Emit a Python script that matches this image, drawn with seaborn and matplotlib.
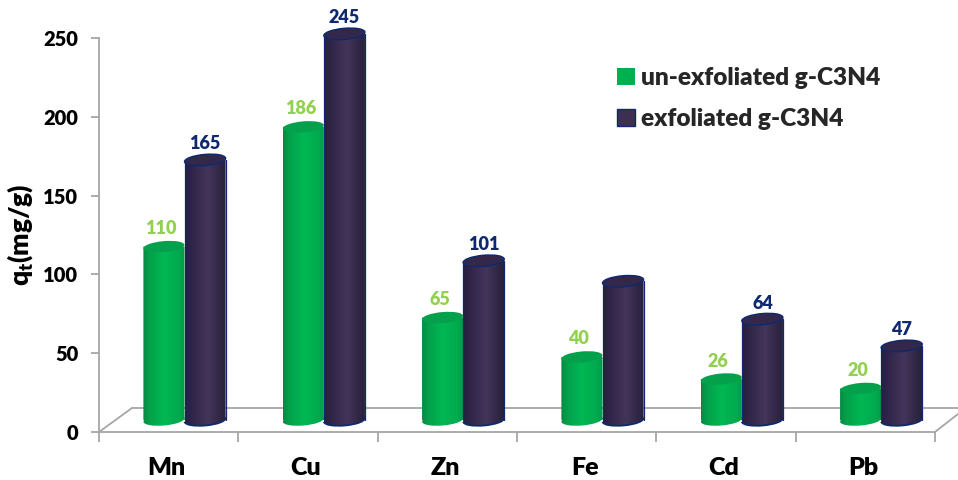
import numpy as np
import pandas as pd
import matplotlib
matplotlib.use("Agg")
import matplotlib.pyplot as plt
import seaborn as sns
from matplotlib.patches import Ellipse, Arc, Patch
from matplotlib.path import Path
from matplotlib.transforms import Affine2D, IdentityTransform

metals = ["Mn", "Cu", "Zn", "Fe", "Cd", "Pb"]
unexfoliated = [110, 186, 65, 40, 26, 20]
exfoliated = [165, 245, 101, 88, 64, 47]
unexfoliated_labels = ["110", "186", "65", "40", "26", "20"]
exfoliated_labels = ["165", "245", "101", "", "64", "47"]
series_names = ["un-exfoliated g-C3N4", "exfoliated g-C3N4"]
y_ticks = [0, 50, 100, 150, 200, 250]

W, H = 958, 480
GREY = "#a6a6a6"
GREEN = "#00b050"
PURPLE = "#3d2f50"
NAVY = "#10296e"
LIME = "#92d050"
WEIGHT = 800

sns.set_theme(style="white")
plt.rcParams["font.family"] = ["Lato", "DejaVu Sans"]
plt.rcParams["font.weight"] = WEIGHT
plt.rcParams["mathtext.fontset"] = "custom"
plt.rcParams["mathtext.bf"] = "Lato:weight=800"

fig = plt.figure(figsize=(W / 100, H / 100), dpi=100, facecolor="white")

# Frame axes: value scale, category ticks and the perspective floor
left, right, top, bottom = 99, 935, 38, 432
frame = fig.add_axes([left / W, 1 - bottom / H, (right - left) / W, (bottom - top) / H], zorder=1)
frame.set_xlim(0, len(metals))
frame.set_ylim(0, 250)
frame.set_facecolor("none")
for side in ("top", "right"):
    frame.spines[side].set_visible(False)
for side in ("left", "bottom"):
    frame.spines[side].set_color(GREY)
    frame.spines[side].set_linewidth(1.3)
frame.set_yticks(y_ticks)
frame.set_yticklabels(y_ticks, fontsize=14.5, fontweight=WEIGHT, color="black")
frame.set_xticks(np.arange(len(metals) + 1))
frame.set_xticklabels([])
frame.set_xticks(np.arange(len(metals)) + 0.485, minor=True)
frame.set_xticklabels(metals, minor=True, fontsize=18, fontweight=WEIGHT, color="black")
frame.tick_params(axis="y", length=6, width=1.3, color=GREY, pad=9, left=True)
frame.tick_params(axis="x", which="major", length=7, width=1.3, color=GREY, bottom=True)
frame.tick_params(axis="x", which="minor", length=0, pad=18)
frame.set_ylabel(r"$\mathbf{q_t(mg/g)}$", fontsize=19, color="black", labelpad=6)

to_frame = frame.transAxes.inverted()
def floor_line(p0, p1):
    (x0, y0), (x1, y1) = fig.transFigure.transform([(p0[0] / W, 1 - p0[1] / H), (p1[0] / W, 1 - p1[1] / H)])
    a, b = to_frame.transform([(x0, y0), (x1, y1)])
    frame.plot([a[0], b[0]], [a[1], b[1]], transform=frame.transAxes, color=GREY, lw=1.3, clip_on=False)

floor_line((left, bottom), (132, 408))
floor_line((132, 408), (W, 408))
floor_line((right, bottom), (W, 414))

# Bar axes: same value scale per pixel, shifted to the middle of the floor
px_per_unit = (bottom - top) / 250
px_per_cat = (right - left) / len(metals)
base_px, first_center_px = 420, 184.5
ax = fig.add_axes([0, 0, 1, 1], zorder=2)
ax.set_facecolor("none")

table = pd.DataFrame({
    "metal": metals * 2,
    "series": [series_names[0]] * 6 + [series_names[1]] * 6,
    "value": unexfoliated + exfoliated,
})
sns.barplot(data=table, x="metal", y="value", hue="series", hue_order=series_names,
            order=metals, palette=[GREEN, PURPLE], width=0.59, gap=0, legend=False,
            errorbar=None, ax=ax, linewidth=0)
xlim = (-first_center_px / px_per_cat, (W - first_center_px) / px_per_cat)
ylim = ((base_px - H) / px_per_unit, base_px / px_per_unit)
ax.set_xlim(xlim)
ax.set_ylim(ylim)
ax.axis("off")

def gradient(stops, n=64):
    pos = np.linspace(0, 1, n)
    xs = [s[0] for s in stops]
    rgb = np.array([matplotlib.colors.to_rgb(s[1]) for s in stops])
    return np.stack([np.interp(pos, xs, rgb[:, i]) for i in range(3)], axis=1)[None, :, :]

green_shade = gradient([(0, "#078a41"), (0.14, "#04a04b"), (0.5, "#00b853"), (0.85, "#01aa4e"), (1, "#019a47")])
purple_shade = gradient([(0, "#271f3c"), (0.2, "#31274a"), (0.55, "#44355a"), (0.85, "#2f2644"), (1, "#262038")])

RX_TILT = 5
RY = 5.5

def ellipse_path(cx, cy, rx, ry, tilt):
    return Path.unit_circle().transformed(Affine2D().scale(rx, ry).rotate_deg(tilt).translate(cx, cy))

def draw_cylinder(bar, shade, cap, edge, z):
    x, w, h = bar.get_x(), bar.get_width(), bar.get_height()
    (x0, y0), (x1, y1) = ax.transData.transform([(x, 0), (x + w, h)])
    cx, rx = (x0 + x1) / 2, (x1 - x0) / 2
    body = Path([(x0, y0), (x1, y0), (x1, y1), (x0, y1), (x0, y0)],
                [Path.MOVETO, Path.LINETO, Path.LINETO, Path.LINETO, Path.CLOSEPOLY])
    outline = Path.make_compound_path(body, ellipse_path(cx, y0, rx, RY, RX_TILT))
    im = ax.imshow(shade, extent=(x, x + w, -12, h), aspect="auto", zorder=z, interpolation="bilinear")
    im.set_clip_path(outline, transform=IdentityTransform())
    bar.set_visible(False)
    tf = IdentityTransform()
    if edge:
        ax.plot([x0, x0], [y0, y1], transform=tf, color=edge, lw=0.9, zorder=z + 0.1)
        ax.plot([x1, x1], [y0, y1], transform=tf, color=edge, lw=0.9, zorder=z + 0.1)
        ax.add_patch(Arc((cx, y0), 2 * rx, 2 * RY, angle=RX_TILT, theta1=180, theta2=360,
                         transform=tf, color=edge, lw=1.3, zorder=z + 0.1))
    ax.add_patch(Ellipse((cx, y1), 2 * rx, 2 * RY, angle=RX_TILT, transform=tf,
                         facecolor=cap, edgecolor=edge if edge else cap,
                         lw=1.1 if edge else 0, zorder=z + 0.2))

for bar in ax.containers[0]:
    draw_cylinder(bar, green_shade, "#05a04c", None, 3)
for bar in ax.containers[1]:
    draw_cylinder(bar, purple_shade, "#33284a", NAVY, 4)

# Value captions sit just above each cap
for bars, labels, color, offset, shift in ((ax.containers[0], unexfoliated_labels, LIME, 18, -3),
                                           (ax.containers[1], exfoliated_labels, NAVY, 16, 0)):
    for bar, text in zip(bars, labels):
        if text:
            ax.annotate(text, (bar.get_x() + bar.get_width() / 2, bar.get_height()),
                        xytext=(shift, offset), textcoords="offset pixels", ha="center", va="center",
                        color=color, fontsize=13, fontweight=WEIGHT, zorder=6)

handles = [Patch(facecolor=GREEN, edgecolor=GREEN, lw=0),
           Patch(facecolor=PURPLE, edgecolor=NAVY, lw=1)]
ax.legend(handles, series_names, loc="upper left", bbox_to_anchor=(617 / W, 1 - 67 / H),
          frameon=False, borderpad=0, borderaxespad=0,
          handlelength=0.72, handleheight=0.72, handletextpad=0.25, labelspacing=0.78,
          prop={"family": "Lato", "weight": WEIGHT, "size": 17.6})

fig.savefig("out.png", dpi=100, facecolor="white")
